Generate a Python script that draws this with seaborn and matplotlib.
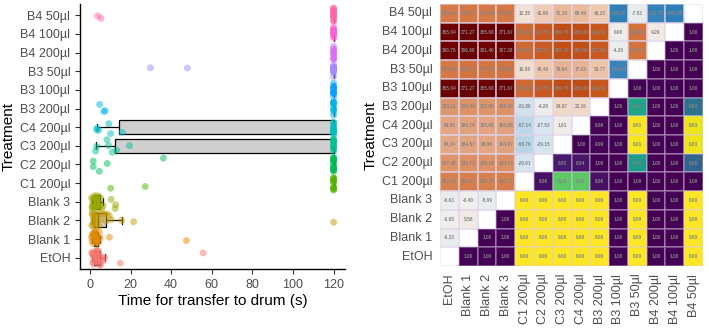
import numpy as np
import pandas as pd
import matplotlib
matplotlib.use("Agg")
import matplotlib.pyplot as plt
import seaborn as sns
from matplotlib.colors import LinearSegmentedColormap

# ---------------- data ----------------
treatments = ["EtOH", "Blank 1", "Blank 2", "Blank 3", "C1 200µl", "C2 200µl",
              "C3 200µl", "C4 200µl", "B3 200µl", "B3 100µl", "B3 50µl",
              "B4 200µl", "B4 100µl", "B4 50µl"]
palette_hex = ["#F8766D", "#E38900", "#C49A00", "#99A800", "#53B400", "#00BC56",
               "#00C094", "#00BFC4", "#00B6EB", "#06A4FF", "#A58AFF", "#DF70F8",
               "#FB61D7", "#FF66A8"]

t_etoh = [0.9, 1.1, 1.3, 1.5, 1.7, 1.9, 2.1, 2.3, 2.5, 2.7, 2.9, 3.1, 3.3, 3.5, 3.7,
          3.9, 4.2, 4.5, 4.8, 5.2, 5.6, 6.1, 6.6, 7.2, 15.0, 55.7]
t_blank1 = [0.8, 1.0, 1.2, 1.4, 1.6, 1.8, 2.0, 2.1, 2.3, 2.5, 2.6, 2.8, 3.0, 3.2, 3.4,
            3.7, 4.0, 4.3, 4.6, 5.0, 9.6, 47.5]
t_blank2 = [0.9, 1.1, 1.3, 1.5, 1.7, 1.8, 2.0, 2.2, 2.5, 2.8, 3.1, 3.6, 4.0, 4.5, 5.2,
            6.0, 7.1, 7.9, 8.4, 9.5, 10.5, 15.6, 21.5, 120]
t_blank3 = [0.8, 1.0, 1.2, 1.3, 1.5, 1.7, 1.9, 2.0, 2.2, 2.4, 2.6, 2.8, 3.0, 3.2, 3.4,
            3.6, 3.9, 4.2, 4.5, 4.8, 5.2, 5.8, 6.5, 10.4, 12.4, 12.7]
t_c1 = [10.2, 27.2] + [120] * 12
t_c2 = [1.6, 1.6, 4.6, 8.5, 36.2] + [120] * 16
t_c3 = [2.8, 3.3, 8.4, 9.2, 11.0, 13.1, 19.5] + [120] * 13
t_c4 = [3.3, 3.6, 4.3, 9.3, 10.2, 15.9] + [120] * 14
t_b3_200 = [4.8, 6.9, 7.4] + [120] * 12
t_b3_100 = [120] * 13
t_b3_50 = [29.8, 48.0] + [120] * 12
t_b4_200 = [120] * 13
t_b4_100 = [120] * 13
t_b4_50 = [3.8, 5.4] + [120] * 14

times = [t_etoh, t_blank1, t_blank2, t_blank3, t_c1, t_c2, t_c3, t_c4, t_b3_200,
         t_b3_100, t_b3_50, t_b4_200, t_b4_100, t_b4_50]

# mean-rank differences (row treatment vs earlier column treatments)
diff_rows = [
    [-6.23],
    [-0.65, 5.58],
    [-6.63, -0.40, -5.99],
    [157.10, 163.33, 157.75, 163.73],
    [127.48, 133.71, 128.13, 134.12, -29.61],
    [98.34, 104.57, 98.98, 104.97, -58.76, -29.15],
    [99.95, 106.18, 100.60, 106.58, -57.14, -27.53, 1.61],
    [123.21, 129.44, 123.85, 129.84, -33.89, -4.28, 24.87, 23.26],
    [365.04, 371.27, 365.68, 371.67, 207.94, 237.55, 266.70, 265.09, 241.83],
    [176.98, 183.21, 177.63, 183.61, 19.88, 49.49, 78.64, 77.03, 53.77, -188.06],
    [360.75, 366.98, 361.40, 367.38, 203.65, 233.27, 262.41, 260.80, 237.54, -4.29, 183.77],
    [365.04, 371.27, 365.68, 371.67, 207.94, 237.55, 266.70, 265.09, 241.83, 0.00, 188.06, 4.29],
    [169.44, 175.67, 170.09, 176.07, 12.35, 41.96, 71.10, 69.49, 46.23, -195.60, -7.53, -191.31, -195.60],
]
# p-values (row treatment vs later column treatments)
p_rows = [
    [1.00, 1.00, 1.00, 0.00, 0.00, 0.00, 0.00, 0.00, 1.00, 0.00, 1.00, 1.00, 0.00],
    [1.00, 1.00, 0.00, 0.00, 0.00, 0.00, 0.00, 1.00, 0.00, 1.00, 1.00, 0.00],
    [1.00, 0.00, 0.00, 0.00, 0.00, 0.00, 1.00, 0.00, 1.00, 1.00, 0.00],
    [0.00, 0.00, 0.00, 0.00, 0.00, 1.00, 0.00, 1.00, 1.00, 0.00],
    [0.96, 0.25, 0.25, 0.96, 1.00, 1.00, 1.00, 1.00, 1.00],
    [0.93, 0.94, 1.00, 1.00, 0.45, 1.00, 1.00, 0.68],
    [1.00, 0.99, 1.00, 0.01, 1.00, 1.00, 0.03],
    [0.99, 1.00, 0.01, 1.00, 1.00, 0.03],
    [1.00, 0.42, 1.00, 1.00, 0.63],
    [1.00, 1.00, 1.00, 1.00],
    [1.00, 1.00, 1.00],
    [1.00, 1.00],
    [1.00],
]

# ---------------- style ----------------
sns.set_theme(style="ticks")
plt.rcParams["font.family"] = ["Liberation Sans", "DejaVu Sans"]
GRAY = "#4d4d4d"

fig = plt.figure(figsize=(7.09, 3.32), dpi=100)
ax1 = fig.add_axes([80 / 709, 1 - 269 / 332, 265 / 709, 265 / 332])
ax2 = fig.add_axes([440 / 709, 1 - 266 / 332, 263 / 709, 262 / 332])

# ---------------- left: box + strip ----------------
df = pd.DataFrame({
    "Treatment": np.concatenate([[t] * len(v) for t, v in zip(treatments, times)]),
    "time": np.concatenate([np.asarray(v, float) for v in times]),
})
order = treatments[::-1]
pal = dict(zip(treatments, palette_hex))

sns.boxplot(data=df, x="time", y="Treatment", order=order, color="#cfcfcf",
            width=0.75, showfliers=False, linecolor="black", linewidth=0.9,
            ax=ax1, zorder=1)
np.random.seed(3)
sns.stripplot(data=df, x="time", y="Treatment", order=order, hue="Treatment",
              palette=pal, hue_order=treatments, jitter=0.4, size=5,
              alpha=0.5, linewidth=0, legend=False, ax=ax1, zorder=3)

ax1.set_xlim(-4.9, 125.6)
ax1.set_ylim(13.6, -0.6)
ax1.set_xticks([0, 20, 40, 60, 80, 100, 120])
ax1.set_xlabel("Time for transfer to drum (s)", fontsize=11, color="black", labelpad=2)
ax1.set_ylabel("Treatment", fontsize=11, color="black", labelpad=3)
ax1.tick_params(axis="both", labelsize=9, labelcolor=GRAY, color="#333333",
                length=3.5, width=0.8)
for s in ["top", "right"]:
    ax1.spines[s].set_visible(False)
for s in ["left", "bottom"]:
    ax1.spines[s].set_linewidth(1.0)
    ax1.spines[s].set_color("black")

# ---------------- right: heatmap ----------------
n = len(treatments)
diff_mat = np.full((n, n), np.nan)
p_mat = np.full((n, n), np.nan)
for i, row in enumerate(diff_rows):
    diff_mat[i + 1, :i + 1] = row
for i, row in enumerate(p_rows):
    p_mat[i, i + 1:] = row

diff_df = pd.DataFrame(diff_mat[::-1], index=treatments[::-1], columns=treatments)
p_df = pd.DataFrame(p_mat[::-1], index=treatments[::-1], columns=treatments)

vmax = 372.0
anchors = [(-372, "#08306b"), (-195, "#2f80b8"), (-58, "#bcd6e8"), (-30, "#d5e5f0"),
           (0, "#f0eeec"), (12, "#f2e2d6"), (50, "#eec7ad"), (100, "#e3a583"),
           (130, "#dc9266"), (170, "#d67b48"), (240, "#c9581f"), (265, "#c04e15"),
           (300, "#9c2a08"), (365, "#6e0000"), (372, "#670000")]
div_cmap = LinearSegmentedColormap.from_list(
    "div", [((v + vmax) / (2 * vmax), c) for v, c in anchors])

akw = dict(fontsize=3.4, color="#858585", fontweight="bold")
sns.heatmap(diff_df, ax=ax2, cmap=div_cmap, vmin=-vmax, vmax=vmax, annot=True,
            fmt=".2f", annot_kws=akw, cbar=False, linewidths=0.3,
            linecolor=(1, 1, 1, 0.25))
sns.heatmap(p_df, ax=ax2, cmap="viridis_r", vmin=0, vmax=1, annot=True,
            fmt=".2f", annot_kws=akw, cbar=False, linewidths=0.3,
            linecolor=(0.85, 0.8, 0.9, 0.35))

ax2.set_xticks(np.arange(n) + 0.5)
ax2.set_xticklabels(treatments, rotation=90)
ax2.set_yticks(np.arange(n) + 0.5)
ax2.set_yticklabels(treatments[::-1], rotation=0)
ax2.set_xlabel("")
ax2.set_ylabel("Treatment", fontsize=11, color="black", labelpad=3)
ax2.tick_params(axis="both", labelsize=9, labelcolor=GRAY, length=0, pad=5.5)

fig.savefig("out.png", dpi=100)
